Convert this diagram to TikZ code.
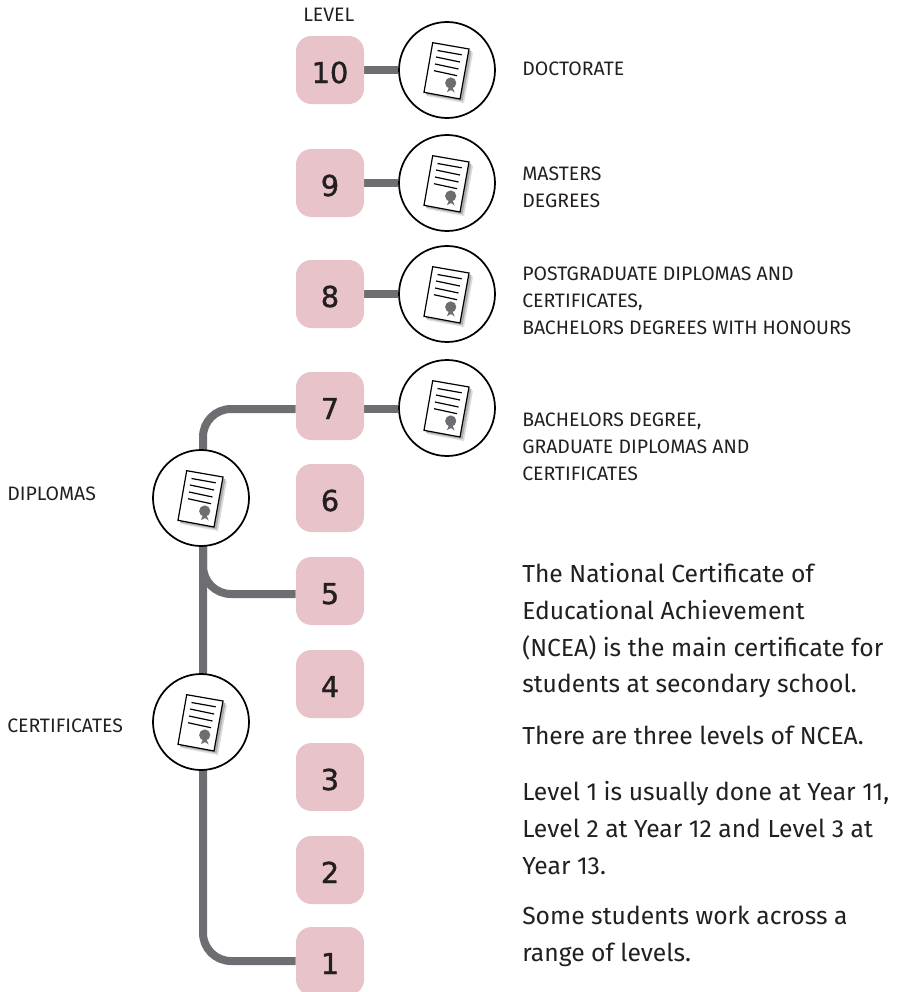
\documentclass[tikz,border=0pt]{standalone}
\usepackage{fontspec}
\setmainfont{Fira Sans}
\newfontfamily\numfont[FakeBold=1.2]{DejaVu Sans}
\usetikzlibrary{backgrounds}
\definecolor{pinkbox}{HTML}{E8C4CA}
\definecolor{linegray}{HTML}{6D6E71}
\definecolor{inkdark}{HTML}{231F20}
\tikzset{
  x=0.75pt, y=-0.75pt,
  lvl/.style={draw=none, fill=pinkbox, rounded corners=11.5pt, minimum width=51pt, minimum height=51pt, inner sep=0pt, text=inkdark, text height=19.5pt, text depth=0pt, font=\numfont\fontsize{21.6}{24}\selectfont},
  seal/.style={circle, draw=black, line width=1.3pt, fill=white, minimum size=72pt, inner sep=0pt},
  conn/.style={draw=linegray, line width=6pt, rounded corners=21pt},
  lab/.style={anchor=north west, inner sep=0pt, align=left, text=inkdark, font=\fontsize{14.6}{20.2}\selectfont},
  body/.style={anchor=north west, inner sep=0pt, align=left, text=inkdark, font=\fontsize{18.5}{27.6}\selectfont},
  cert/.pic={
    \fill[black!14] (-20,26) -- (-11,-24) -- (26,-17) -- (17,33) -- cycle;
    \fill[black!32] (-21,24.5) -- (-12,-25) -- (24.5,-19) -- (15.5,31) -- cycle;
    \draw[black, line width=0.9pt, fill=white] (-14.3,-27.3) -- (22,-21) -- (13,29) -- (-23,22.3) -- cycle;
    \foreach \a/\b/\c/\d in {-9.5/-19.5/14.7/-15.2, -11/-13/13/-8, -12/-6/11.5/-1, -13/0.7/10/5.7}
      \draw[black, line width=0.9pt] (\a,\b) -- (\c,\d);
    \fill[linegray] (0,22) -- (2.4,16) -- (5,16) -- (7.6,22.5) -- (4,20) -- cycle;
    \fill[linegray] (3.7,13) circle[radius=5.6*0.75pt];
  }
}
\begin{document}
\begin{tikzpicture}
\useasboundingbox (0,0) rectangle (896,992);
\clip (0,0) rectangle (896,992);

\node[lvl] (b10) at (330,70) {10};
\node[lvl] (b9)  at (330,183) {9};
\node[lvl] (b8)  at (330,294) {8};
\node[lvl] (b7)  at (330,406) {7};
\node[lvl] (b6)  at (330,498) {6};
\node[lvl] (b5)  at (330,591) {5};
\node[lvl] (b4)  at (330,684) {4};
\node[lvl] (b3)  at (330,777) {3};
\node[lvl] (b2)  at (330,870) {2};
\node[lvl] (b1)  at (330,961) {1};

\node[seal] (c10) at (447,70) {};
\node[seal] (c9)  at (447,183) {};
\node[seal] (c8)  at (447,294) {};
\node[seal] (c7)  at (447,408) {};
\node[seal] (cD)  at (201,498) {};
\node[seal] (cC)  at (201,722) {};
\foreach \n in {c10,c9,c8,c7,cD,cC}
  \pic at (\n.center) {cert};

\coordinate (trunk) at (203,0);
\coordinate (y7) at (0,409);
\coordinate (y5) at (0,594);
\begin{scope}[on background layer]
  \draw[conn] (b10.east) -- (c10.west);
  \draw[conn] (b9.east) -- (c9.west);
  \draw[conn] (b8.east) -- (c8.west);
  \draw[conn] (b7.east |- y7) -- (c7.west |- y7);
  \draw[conn] (b7.west |- y7) -- (trunk |- y7) -- (trunk |- cD.center);
  \draw[conn] (trunk |- cD.center) -- (trunk |- y5) -- (b5.west |- y5);
  \draw[conn] (b1.west) -- (trunk |- b1.west) -- (trunk |- cD.center);
\end{scope}

\node[lab] (tLevel) at (303,8) {LEVEL};
\node[lab] (tDoc) at (522,62) {DOCTORATE};
\node[lab] (tMas) at (522,167) {MASTERS\\DEGREES};
\node[lab] (tPost) at (522,267) {POSTGRADUATE DIPLOMAS AND\\CERTIFICATES,\\BACHELORS DEGREES WITH HONOURS};
\node[lab] (tBach) at (522,413) {BACHELORS DEGREE,\\GRADUATE DIPLOMAS AND\\CERTIFICATES};
\node[lab] (tDip) at (7,487) {DIPLOMAS};
\node[lab] (tCert) at (7,719) {CERTIFICATES};

\node[body] (p1) at (522,563) {The National Certificate of\\Educational Achievement\\(NCEA) is the main certificate for\\students at secondary school.};
\node[body] (p2) at (522,726) {There are three levels of NCEA.};
\node[body] (p3) at (522,781) {Level 1 is usually done at Year 11,\\Level 2 at Year 12 and Level 3 at\\Year 13.};
\node[body] (p4) at (522,906) {Some students work across a\\range of levels.};
\end{tikzpicture}
\end{document}
